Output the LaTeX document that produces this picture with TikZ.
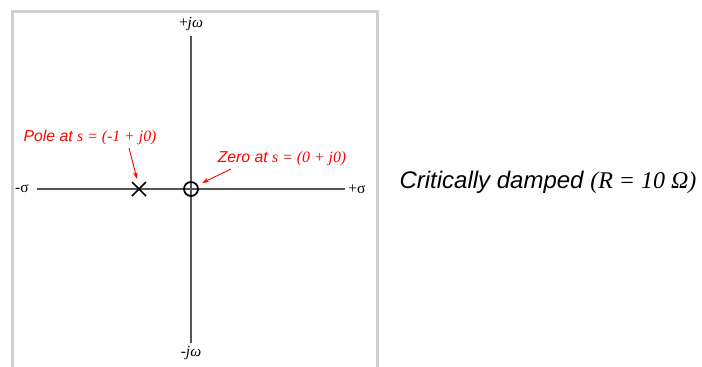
\documentclass[tikz,border=0pt]{standalone}
\usepackage{fontspec}
\setmainfont{Liberation Sans}
\newfontfamily\tms{Liberation Serif}
\usetikzlibrary{arrows.meta}
\definecolor{framegray}{HTML}{D0D0D0}
\definecolor{axisgray}{HTML}{555555}
\begin{document}
\begin{tikzpicture}[x=1pt,y=-1pt,
  axis/.style={draw=axisgray,line width=1.3pt},
  axlabel/.style={inner sep=0pt,font=\tms\fontsize{15.5}{17}\selectfont},
  redlabel/.style={inner sep=0pt,text=red,font=\itshape\fontsize{15.8}{18}\selectfont},
  redarrow/.style={draw=red,line width=0.9pt,-{Stealth[length=7pt,width=4.5pt]}},
  pzmark/.style={draw=black,line width=1.7pt}]
\useasboundingbox (0,0) rectangle (702,367);
% frame
\draw[framegray,line width=3pt] (12,368) -- (12,11) -- (377,11) -- (377,368);
% axes
\coordinate (top) at (191,36);
\coordinate (bot) at (191,343);
\coordinate (left) at (37,189);
\coordinate (right) at (345,189);
\draw[axis] (top) -- (bot);
\draw[axis] (left) -- (right);
\node[axlabel] (pjw) at (191,24) {+\textit{j}\textit{ω}};
\node[axlabel] (mjw) at (191,353) {-\textit{j}\textit{ω}};
\node[axlabel] (ms) at (22,189) {-σ};
\node[axlabel] (ps) at (357,189) {+σ};
% pole
\coordinate (pole) at (139,189);
\draw[pzmark] (132,182) -- (146,196) (132,196) -- (146,182);
\coordinate (poletop) at (137,179);
% zero
\node[circle,draw=black,line width=1.7pt,minimum size=14pt,inner sep=0pt] (zero) at (191,189) {};
\coordinate (zerotip) at (202,183);
% labels
\node[redlabel] (polel) at (90,137) {Pole at {\tms\itshape s = (-1 + j0)}};
\node[redlabel] (zerol) at (282,159) {Zero at {\tms\itshape s = (0 + j0)}};
\coordinate (pa) at (129,148);
\coordinate (za) at (231,169);
\draw[redarrow] (pa) -- (poletop);
\draw[redarrow] (za) -- (zerotip);
% title
\node[inner sep=0pt,font=\itshape\fontsize{24}{26}\selectfont] (title) at (548,182) {Critically damped {\tms\itshape (R = 10 Ω)}};
\end{tikzpicture}
\end{document}
